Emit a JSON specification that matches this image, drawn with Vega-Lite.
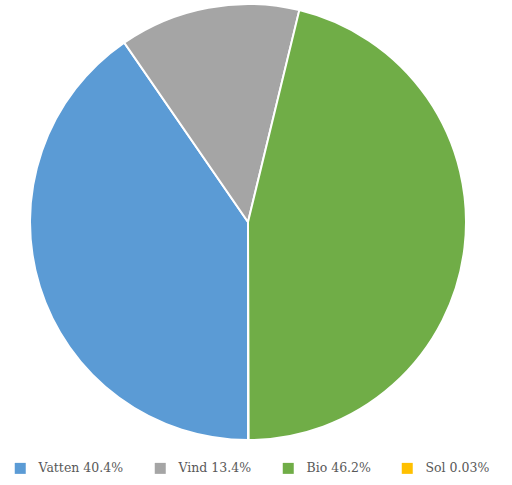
{
  "$schema": "https://vega.github.io/schema/vega-lite/v6.json",
  "width": 436,
  "height": 436,
  "autosize": "none",
  "padding": {"left": 30, "top": 4, "right": 46, "bottom": 45},
  "background": "white",
  "data": {
    "values": [
      {"source": "Vatten 40.4%", "share": 40.4, "ord": 1},
      {"source": "Vind 13.4%", "share": 13.4, "ord": 2},
      {"source": "Bio 46.2%", "share": 46.2, "ord": 3},
      {"source": "Sol 0.03%", "share": 0.03, "ord": 4}
    ]
  },
  "mark": {"type": "arc", "stroke": "white", "strokeWidth": 2, "outerRadius": 218},
  "encoding": {
    "theta": {"field": "share", "type": "quantitative", "stack": true, "scale": {"range": [3.14159265, 9.42477796]}},
    "order": {"field": "ord", "type": "quantitative"},
    "color": {
      "field": "source",
      "type": "nominal",
      "scale": {
        "domain": ["Vatten 40.4%", "Vind 13.4%", "Bio 46.2%", "Sol 0.03%"],
        "range": ["#5B9BD5", "#A5A5A5", "#70AD47", "#FFC000"]
      },
      "legend": {
        "title": null,
        "orient": "none",
        "legendX": -16,
        "legendY": 458,
        "direction": "horizontal",
        "columns": 4,
        "columnPadding": 30,
        "symbolType": "square",
        "symbolSize": 121,
        "symbolStrokeWidth": 0,
        "labelFont": "DejaVu Serif",
        "labelFontSize": 12.5,
        "labelColor": "#595959",
        "labelOffset": 12
      }
    }
  },
  "config": {"view": {"stroke": null}}
}
